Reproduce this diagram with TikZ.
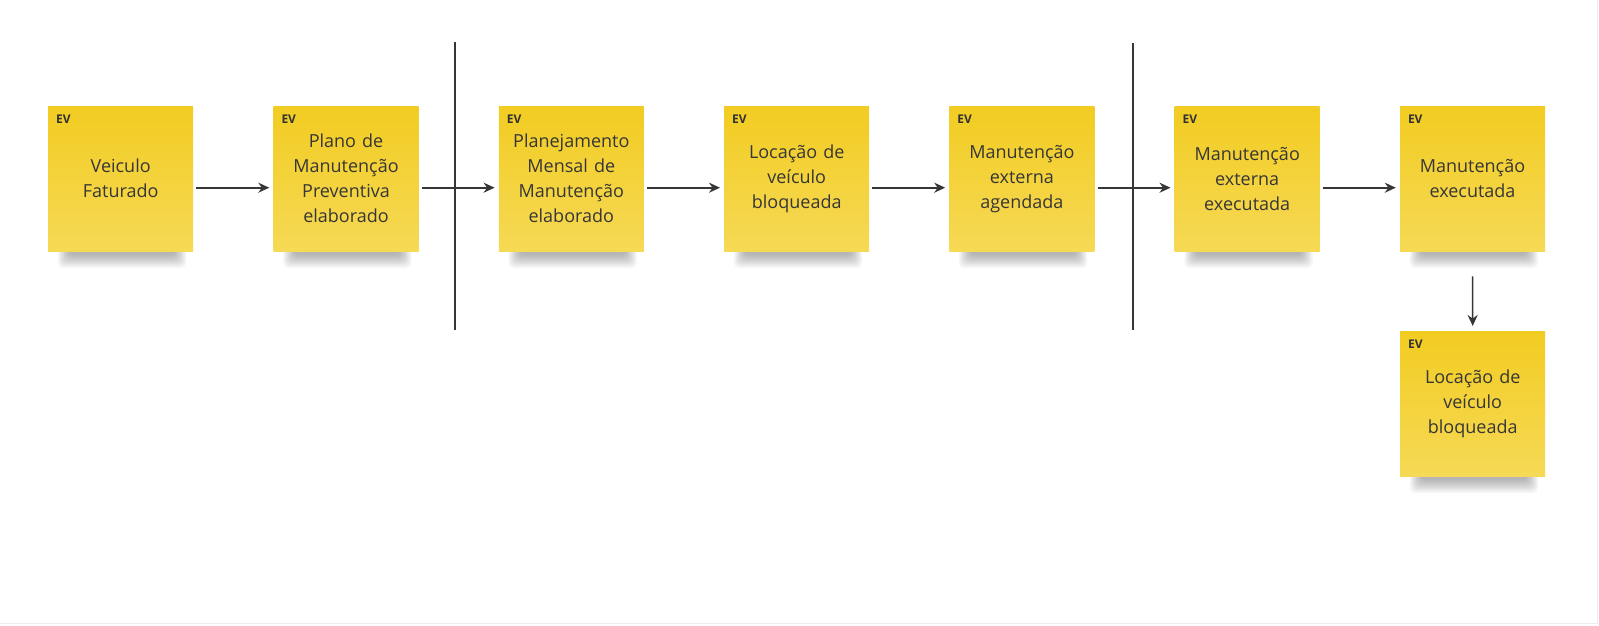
\documentclass[tikz,border=0pt]{standalone}
\usepackage{fontspec}
\setmainfont{Open Sans}
\usetikzlibrary{arrows.meta}
\definecolor{ink}{HTML}{363636}
\definecolor{stickytop}{HTML}{F2CC22}
\definecolor{stickybot}{HTML}{F6D955}
\tikzset{
 x=1pt, y=1pt,
 stickybox/.style={minimum width=145pt, minimum height=145pt, inner sep=0pt,
   top color=stickytop, bottom color=stickybot, anchor=north west, align=center,
   font=\fontsize{18}{25}\selectfont, text=ink, text width=140pt},
 flow/.style={draw=ink, line width=1.6pt, -{Stealth[length=11pt,width=10pt]}},
 divider/.style={draw=ink, line width=1.5pt},
 evlabel/.style={font=\bfseries\fontsize{12}{14}\selectfont, text=ink!90!black, anchor=west, inner sep=0pt},
 shadowlayer/.style={fill=black, opacity=0.04, rounded corners=5pt}
}
% #1 = left x, #2 = bottom y (pixels, downward)
\newcommand\stickyshadow[2]{%
  \foreach \i in {0,...,7} {
    \fill[shadowlayer] (#1+10+\i*1.5, -#2+8) rectangle (#1+138-\i*1.5, -#2-17+\i*1.8);
  }}
% #1 name, #2 left x, #3 top y, #4 bottom y, #5 text
\newcommand\stickynote[5]{%
  \stickyshadow{#2}{#4}
  \node[stickybox] (#1) at (#2,-#3) {#5};
  \node[evlabel] (#1ev) at ([xshift=8pt,yshift=-13pt]#1.north west) {EV};
}
\begin{document}
\begin{tikzpicture}
\useasboundingbox (0,0) rectangle (1599,-625);
\fill[white] (0,0) rectangle (1599,-625);
\draw[black!7, line width=1pt] (0,-623.5) -- (1597.5,-623.5) -- (1597.5,0);

\stickynote{s1}{48}{106}{251}{Veiculo\\Faturado}
\stickynote{s2}{273.3}{106}{251}{Plano de\\Manutenção\\Preventiva\\elaborado}
\stickynote{s3}{498.6}{106}{251}{Planejamento\\Mensal de\\Manutenção\\elaborado}
\stickynote{s4}{724}{106}{251}{Locação de\\veículo\\bloqueada}
\stickynote{s5}{949.2}{106}{251}{Manutenção\\externa\\agendada}
\stickynote{s6}{1174.5}{106}{251}{Manutenção\\externa\\executada}
\stickynote{s7}{1399.8}{106}{251}{Manutenção\\executada}
\stickynote{s8}{1400}{331}{476}{Locação de\\veículo\\bloqueada}

\coordinate (d1t) at (455,-42);
\coordinate (d1b) at (455,-330);
\coordinate (d2t) at (1133,-43);
\coordinate (d2b) at (1133,-330);
\draw[divider] (d1t) -- (d1b);
\draw[divider] (d2t) -- (d2b);

\foreach \a/\b in {s1/s2,s2/s3,s3/s4,s4/s5,s5/s6,s6/s7} {
  \draw[flow, shorten <=3pt, shorten >=4pt] ([yshift=-9pt]\a.east) -- ([yshift=-9pt]\b.west);
}
\draw[flow, shorten <=25pt, shorten >=5pt] (s7.south) -- (s8.north);
\end{tikzpicture}
\end{document}
